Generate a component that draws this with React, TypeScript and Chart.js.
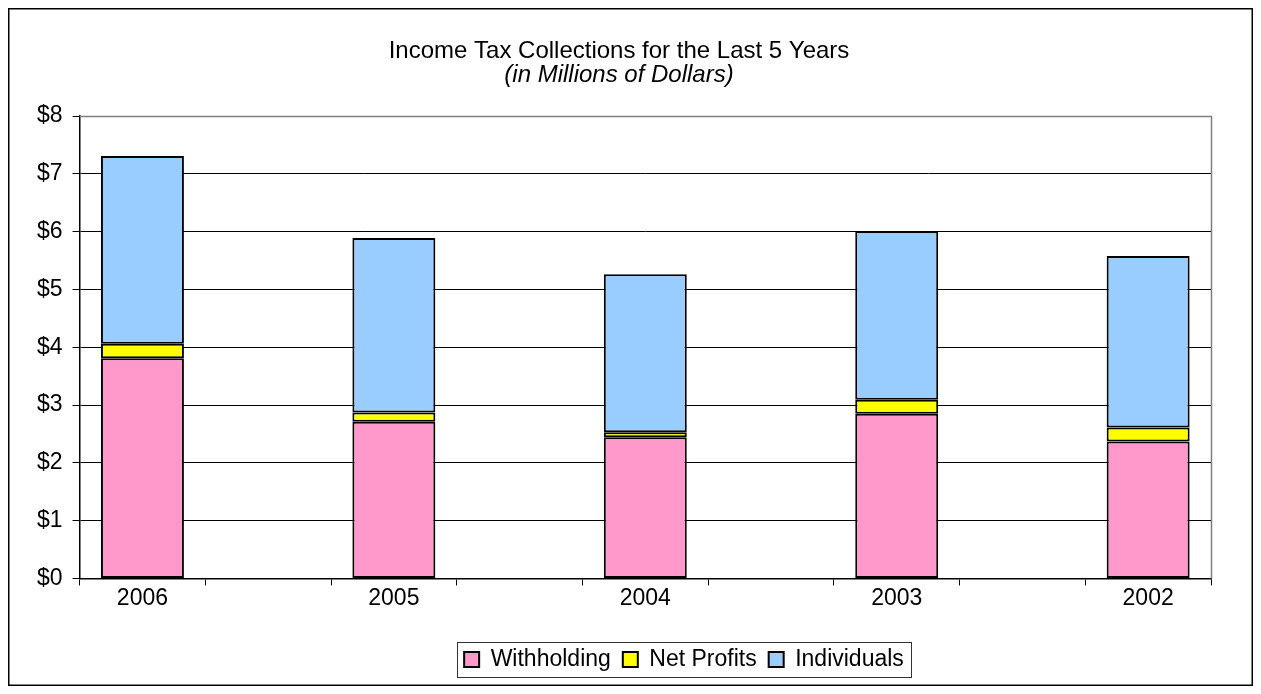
import React, { useEffect, useRef } from "react";
import { Chart, registerables } from "chart.js";

Chart.register(...registerables);

const years = ["2006", "2005", "2004", "2003", "2002"];
const withholding = [3.81, 2.71, 2.44, 2.85, 2.37];
const netProfits = [0.25, 0.16, 0.09, 0.24, 0.24];
const individuals = [3.25, 3.02, 2.73, 2.92, 2.97];
const yMin = 0;
const yMax = 8;
const yStep = 1;

// The category axis has an empty slot between consecutive years.
const spaced = <T,>(arr: T[], blank: T): T[] => {
  const out: T[] = [];
  arr.forEach((v, i) => {
    if (i > 0) out.push(blank);
    out.push(v);
  });
  return out;
};

const FONT = "Arial, 'Liberation Sans', sans-serif";
const LEGEND_SHIFT = 65;

const framePlugin = {
  id: "framePlugin",
  afterLayout(chart: any) {
    if (chart.legend) {
      chart.legend.left += LEGEND_SHIFT;
      chart.legend.right += LEGEND_SHIFT;
    }
  },
  beforeDraw(chart: any) {
    const ctx = chart.ctx;
    ctx.save();
    ctx.fillStyle = "#ffffff";
    ctx.fillRect(0, 0, chart.width, chart.height);
    ctx.restore();
  },
  beforeDatasetsDraw(chart: any) {
    const { ctx, chartArea } = chart;
    ctx.save();
    ctx.strokeStyle = "#808080";
    ctx.lineWidth = 1.5;
    ctx.beginPath();
    ctx.moveTo(chartArea.left, chartArea.top + 0.5);
    ctx.lineTo(chartArea.right + 0.5, chartArea.top + 0.5);
    ctx.lineTo(chartArea.right + 0.5, chartArea.bottom);
    ctx.stroke();
    ctx.restore();
  },
  afterDraw(chart: any) {
    const ctx = chart.ctx;
    ctx.save();
    ctx.strokeStyle = "#000000";
    ctx.lineWidth = 1.5;
    ctx.strokeRect(0.75, 0.75, chart.width - 1.5, chart.height - 1.5);
    const boxes = chart.legend && chart.legend.legendHitBoxes;
    if (boxes && boxes.length) {
      let l = Infinity, r = -Infinity, cy = 0;
      boxes.forEach((b: any) => {
        l = Math.min(l, b.left);
        r = Math.max(r, b.left + b.width);
        cy = b.top + b.height / 2;
      });
      ctx.lineWidth = 1;
      ctx.strokeStyle = "#333333";
      ctx.strokeRect(Math.round(l - 7) + 0.5, Math.round(cy - 17.5) + 0.5, Math.round(r - l + 14), 35);
    }
    ctx.restore();
  },
};

export default function App() {
  const ref = useRef<HTMLCanvasElement | null>(null);
  useEffect(() => {
    if (!ref.current) return;
    const ds = (label: string, data: number[], color: string) => ({
      label,
      data: spaced<number | null>(data, null),
      backgroundColor: color,
      borderColor: "#000000",
      borderWidth: 2,
      borderSkipped: false as any,
      barPercentage: 0.66,
      categoryPercentage: 1.0,
    });
    const chart = new Chart(ref.current, {
      type: "bar",
      data: {
        labels: spaced(years, ""),
        datasets: [
          ds("Withholding", withholding, "#FF99CC"),
          ds("Net Profits", netProfits, "#FFFF00"),
          ds("Individuals", individuals, "#99CCFF"),
        ],
      },
      options: {
        animation: false,
        responsive: true,
        maintainAspectRatio: false,
        layout: { padding: { left: 19, right: 42, top: 0, bottom: 5 } },
        plugins: {
          title: {
            display: true,
            text: "Income Tax Collections for the Last 5 Years",
            color: "#000",
            font: { family: FONT, size: 24, weight: "normal", lineHeight: 1.0 },
            padding: { top: 31, bottom: 0 },
          },
          subtitle: {
            display: true,
            text: "(in Millions of Dollars)",
            color: "#000",
            font: { family: FONT, size: 24, style: "italic", weight: "normal", lineHeight: 1.0 },
            padding: { top: 0, bottom: 29 },
          },
          legend: {
            position: "bottom",
            labels: {
              color: "#000",
              boxWidth: 15,
              boxHeight: 15,
              padding: 12,
              font: { family: FONT, size: 23 },
            },
          },
          tooltip: { enabled: false },
        },
        scales: {
          x: {
            stacked: true,
            afterFit: (scale: any) => {
              scale.height += 25;
            },
            grid: {
              display: true,
              drawOnChartArea: false,
              drawTicks: true,
              tickLength: 7,
              color: "#000",
              lineWidth: 1,
            },
            border: { display: true, color: "#000", width: 1.5 },
            ticks: {
              color: "#000",
              padding: -1,
              autoSkip: false,
              maxRotation: 0,
              font: { family: FONT, size: 23 },
            },
          },
          y: {
            stacked: true,
            min: yMin,
            max: yMax,
            grid: {
              color: "#000",
              lineWidth: 1,
              drawTicks: true,
              tickLength: 7,
            },
            border: { display: true, color: "#000", width: 1.5 },
            ticks: {
              stepSize: yStep,
              color: "#000",
              padding: 10,
              font: { family: FONT, size: 23 },
              callback: (v: any) => "$" + v,
            },
          },
        },
      },
      plugins: [framePlugin],
    });
    return () => chart.destroy();
  }, []);
  return (
    <div style={{ width: 1245, height: 678, position: "relative" }}>
      <canvas ref={ref} />
    </div>
  );
}
